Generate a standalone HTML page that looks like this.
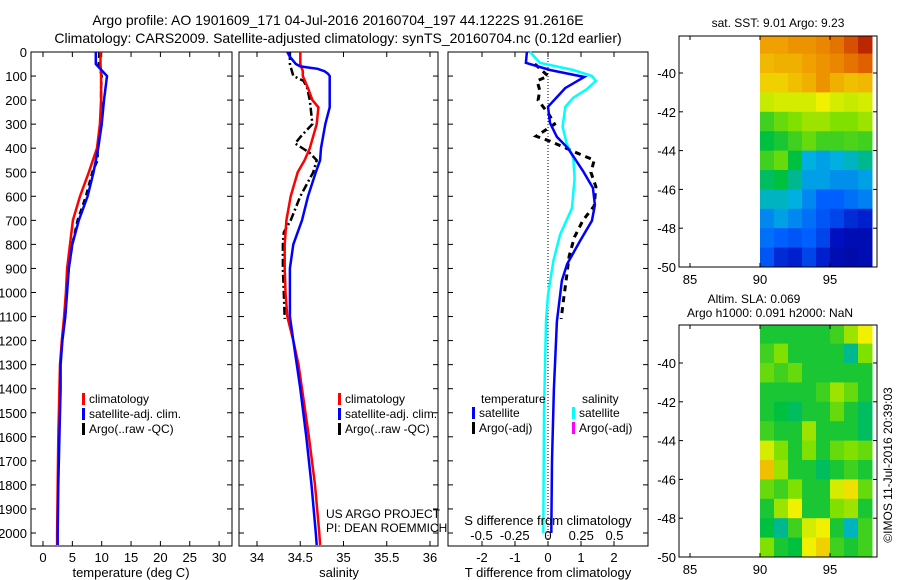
<!DOCTYPE html>
<html><head><meta charset="utf-8">
<style>
html,body{margin:0;padding:0;background:#fff;}
svg{display:block;font-family:"Liberation Sans",sans-serif;}
</style></head>
<body>
<svg id="chart" width="900" height="580" viewBox="0 0 900 580" xmlns="http://www.w3.org/2000/svg">
<text x="338" y="25" font-size="14" text-anchor="middle">Argo profile: AO 1901609_171 04-Jul-2016 20160704_197 44.1222S 91.2616E</text>
<text x="338" y="43" font-size="14" text-anchor="middle">Climatology: CARS2009. Satellite-adjusted climatology: synTS_20160704.nc (0.12d earlier)</text>
<g id="g1"></g>
<g id="g2"></g>
<g id="g3"></g>
<g id="g4"></g>
<g id="g5"></g>
<text transform="translate(892,465) rotate(-90)" font-size="12" text-anchor="middle">©IMOS 11-Jul-2016 20:39:03</text>
</svg>
<script>
// ---- data ----
const depthTicks = [0,100,200,300,400,500,600,700,800,900,1000,1100,1200,1300,1400,1500,1600,1700,1800,1900,2000];
const tempTicks = [0,5,10,15,20,25,30];
const salTicks = [34,34.5,35,35.5,36];
const salTickLabels = ['34','34.5','35','35.5','36'];
const tdiffTicks = [-2,-1,0,1,2];
const sdiffTicks = [-0.5,-0.25,0,0.25,0.5];
const climDepth = [0,50,100,200,300,400,500,600,700,800,900,1000,1100,1200,1300,1400,1600,1800,2000,2050];
const climTemp = [9.8,9.8,9.9,9.9,9.7,9.2,7.8,6.3,5.1,4.6,4.1,3.9,3.6,3.2,2.9,2.8,2.6,2.5,2.4,2.4];
const satTemp = [9.0,9.0,10.9,10.4,10.0,9.4,8.6,7.6,6.1,5.0,4.4,4.1,3.8,3.3,3.0,3.0,2.8,2.6,2.5,2.5];
const argoDepth = [0,50,100,150,200,300,350,400,450,500,600,700,800,900,1000,1100];
const argoTemp = [9.6,9.5,10.0,9.9,9.9,10.0,9.6,9.3,9.3,8.4,7.3,5.9,5.0,4.4,4.0,3.8];
const salDepth = [0,20,50,60,70,80,90,100,150,200,230,300,400,450,500,600,700,800,900,1000,1100,1200,1300,1400,1600,1800,2000,2050];
const climSal = [34.5,34.5,34.5,34.51,34.52,34.53,34.53,34.53,34.59,34.64,34.71,34.69,34.61,34.55,34.47,34.39,34.34,34.32,34.32,34.33,34.35,34.42,34.48,34.52,34.6,34.67,34.72,34.73];
const satSal = [34.35,34.38,34.45,34.5,34.7,34.78,34.82,34.84,34.84,34.84,34.84,34.79,34.74,34.73,34.68,34.59,34.52,34.42,34.38,34.38,34.38,34.42,34.46,34.5,34.57,34.63,34.68,34.69];
const argoSalDepth = [0,50,100,120,150,200,300,350,380,420,450,500,600,700,750,800,900,1000,1110];
const argoSal = [34.38,34.38,34.42,34.54,34.58,34.61,34.64,34.51,34.44,34.61,34.69,34.65,34.5,34.39,34.31,34.3,34.3,34.31,34.32];
const tdDepth = [0,45,75,104,150,228,295,353,399,495,565,636,702,786,882,950,1120,1400,1700,2000];
const tdSat = [-0.64,-0.67,0.06,1.1,0.52,0,0.06,0.27,0.6,1.06,1.36,1.42,1.33,0.97,0.58,0.42,0.27,0.18,0.12,0.1];
const sdDepth = [0,45,75,100,120,155,190,228,310,380,440,525,650,760,870,1010,1120,1500,2000];
const sdSat = [-0.135,-0.06,0.19,0.33,0.36,0.29,0.19,0.13,0.11,0.14,0.19,0.2,0.18,0.09,0.04,0,-0.015,-0.03,-0.035];
const tdArgoDepth = [50,100,120,160,200,260,300,350,370,420,450,500,560,640,700,770,850,950,1050,1110];
const tdArgo = [-0.4,0,-0.33,-0.25,-0.3,0.03,0.2,-0.36,0.05,0.88,1.4,1.3,1.45,1.4,1.06,0.8,0.64,0.55,0.45,0.4];
const mapLonTicks = [85,90,95];
const mapLatTicks = [-40,-42,-44,-46,-48,-50];
const sstLat = [-38,-39,-40,-41,-42,-43,-44,-45,-46,-47,-48,-49];
const sstLon = [90,91,92,93,94,95,96,97];
const sstGrid = [
[0.78,0.78,0.8,0.8,0.82,0.85,0.9,0.95],
[0.75,0.76,0.76,0.78,0.8,0.82,0.85,0.88],
[0.72,0.72,0.74,0.76,0.8,0.76,0.74,0.75],
[0.65,0.66,0.66,0.66,0.68,0.66,0.65,0.66],
[0.55,0.58,0.6,0.62,0.62,0.6,0.6,0.62],
[0.5,0.52,0.55,0.58,0.55,0.55,0.56,0.55],
[0.55,0.58,0.5,0.4,0.38,0.4,0.42,0.45],
[0.48,0.5,0.45,0.38,0.38,0.36,0.36,0.38],
[0.42,0.42,0.4,0.35,0.3,0.3,0.32,0.34],
[0.35,0.38,0.35,0.32,0.28,0.25,0.2,0.18],
[0.32,0.3,0.28,0.3,0.25,0.15,0.12,0.12],
[0.28,0.2,0.18,0.25,0.18,0.12,0.1,0.12]];
const slaGrid = [
[0.52,0.52,0.52,0.52,0.52,0.55,0.62,0.68],
[0.55,0.6,0.52,0.52,0.52,0.52,0.45,0.6],
[0.58,0.55,0.58,0.52,0.52,0.52,0.52,0.52],
[0.52,0.52,0.52,0.52,0.55,0.62,0.58,0.52],
[0.52,0.5,0.48,0.52,0.52,0.58,0.52,0.48],
[0.55,0.52,0.52,0.62,0.52,0.52,0.52,0.48],
[0.66,0.6,0.52,0.6,0.52,0.58,0.6,0.58],
[0.74,0.62,0.52,0.52,0.48,0.52,0.55,0.52],
[0.58,0.55,0.6,0.52,0.52,0.66,0.7,0.58],
[0.52,0.62,0.68,0.52,0.52,0.6,0.62,0.52],
[0.5,0.45,0.55,0.66,0.68,0.52,0.42,0.55],
[0.6,0.52,0.5,0.68,0.72,0.55,0.52,0.55]];

// ---- helpers ----
const NS='http://www.w3.org/2000/svg';
function mk(parent,tag,attrs,txt){const e=document.createElementNS(NS,tag);for(const k in attrs)e.setAttribute(k,attrs[k]);if(txt!==undefined)e.textContent=txt;parent.appendChild(e);return e;}
const TOP=52,BOT=546;
const yD = d => TOP + d*0.2405;
const xT = t => 43 + t*5.87;
const xS = s => 257 + (s-34)*86.5;
const xTD = v => 548 + v*33;
const xSD = v => 548 + v*133;
function poly(g,xs,ds,fx,style,name){
  const pts=xs.map((v,i)=>fx(v).toFixed(1)+','+yD(ds[i]).toFixed(1)).join(' ');
  const p=mk(g,'polyline',Object.assign({points:pts,fill:'none'},style));
  
  
}
function frame(g,x0,x1,yt,yb){
  const r=mk(g,'rect',{x:x0,y:yt,width:x1-x0,height:yb-yt,fill:'none',stroke:'#000','stroke-width':1});
  
  
}
function depthAxis(g,x0,x1,labels){
  depthTicks.forEach(d=>{const y=yD(d);
    mk(g,'line',{x1:x0,x2:x0+5,y1:y,y2:y,stroke:'#000'});
    mk(g,'line',{x1:x1,x2:x1-5,y1:y,y2:y,stroke:'#000'});
    if(labels){const t=mk(g,'text',{x:x0-4,y:y+5,'font-size':13,'text-anchor':'end'},String(d));
      
      }
  });
}
function xAxis(g,ticks,labels,fx){
  ticks.forEach((v,i)=>{const x=fx(v);
    mk(g,'line',{x1:x,x2:x,y1:BOT,y2:BOT-5,stroke:'#000'});
    mk(g,'line',{x1:x,x2:x,y1:TOP,y2:TOP+5,stroke:'#000'});
    const t=mk(g,'text',{x:x,y:BOT+16,'font-size':13,'text-anchor':'middle'},labels[i]);
    
    
  });
}
function legend(g,x,y,items){
  items.forEach((it,i)=>{
    mk(g,'rect',{x:x,y:y+i*15-10,width:3,height:12,fill:it[1]});
    const t=mk(g,'text',{x:x+7,y:y+i*15,'font-size':12},it[0]);
    
    
  });
}
// ---- panel 1 ----
const g1=document.getElementById('g1');
frame(g1,31,232,TOP,BOT);
depthAxis(g1,31,232,true);
xAxis(g1,tempTicks,tempTicks.map(String),xT);
poly(g1,argoTemp,argoDepth,xT,{stroke:'#000','stroke-width':2.5,'stroke-dasharray':'6,4'},'argo-temperature-line');
poly(g1,climTemp,climDepth,xT,{stroke:'#f00','stroke-width':2.5},'climatology-temperature-line');
poly(g1,satTemp,climDepth,xT,{stroke:'#00f','stroke-width':2.5},'satellite-temperature-line');
legend(g1,82,403,[['climatology','#f00'],['satellite-adj. clim.','#00f'],['Argo(..raw -QC)','#000']]);
mk(g1,'text',{x:131,y:577,'font-size':13,'text-anchor':'middle'},'temperature (deg C)');
// ---- panel 2 ----
const g2=document.getElementById('g2');
frame(g2,239,438,TOP,BOT);
depthAxis(g2,239,438,false);
xAxis(g2,salTicks,salTickLabels,xS);
poly(g2,argoSal,argoSalDepth,xS,{stroke:'#000','stroke-width':2.5,'stroke-dasharray':'8,3,2,3'},'argo-salinity-line');
poly(g2,climSal,salDepth,xS,{stroke:'#f00','stroke-width':2.5},'climatology-salinity-line');
poly(g2,satSal,salDepth,xS,{stroke:'#00f','stroke-width':2.5},'satellite-salinity-line');
legend(g2,338,403,[['climatology','#f00'],['satellite-adj. clim.','#00f'],['Argo(..raw -QC)','#000']]);
mk(g2,'text',{x:326,y:518,'font-size':12},'US ARGO PROJECT');
mk(g2,'text',{x:326,y:532,'font-size':12},'PI: DEAN ROEMMICH');
mk(g2,'text',{x:339,y:577,'font-size':13,'text-anchor':'middle'},'salinity');
// ---- panel 3 ----
const g3=document.getElementById('g3');
frame(g3,448,648,TOP,BOT);
depthAxis(g3,448,648,false);
xAxis(g3,tdiffTicks,tdiffTicks.map(String),xTD);
mk(g3,'line',{x1:548,x2:548,y1:TOP,y2:BOT,stroke:'#000','stroke-dasharray':'1,2'});
poly(g3,tdArgo,tdArgoDepth,xTD,{stroke:'#000','stroke-width':3,'stroke-dasharray':'6,5'},'argo-temperature-difference-line');
poly(g3,sdSat,sdDepth,xSD,{stroke:'#0ff','stroke-width':2.5},'satellite-salinity-difference-line');
poly(g3,tdSat,tdDepth,xTD,{stroke:'#00f','stroke-width':2.5},'satellite-temperature-difference-line');
mk(g3,'text',{x:481,y:403,'font-size':12},'temperature');
mk(g3,'text',{x:582,y:403,'font-size':12},'salinity');
legend(g3,472,417,[['satellite','#00f'],['Argo(-adj)','#000']]);
legend(g3,572,417,[['satellite','#0ff'],['Argo(-adj)','#f0f']]);
mk(g3,'text',{x:548,y:525,'font-size':13,'text-anchor':'middle'},'S difference from climatology');
sdiffTicks.forEach(v=>{const t=mk(g3,'text',{x:xSD(v),y:540,'font-size':13,'text-anchor':'middle'},String(v));
  
  });
mk(g3,'text',{x:548,y:577,'font-size':13,'text-anchor':'middle'},'T difference from climatology');
// ---- maps ----
const stops=[[0,[0,0,127]],[0.15,[0,16,192]],[0.3,[0,96,255]],[0.4,[0,176,224]],[0.5,[0,192,64]],[0.6,[128,224,0]],[0.68,[240,240,0]],[0.78,[240,160,0]],[0.88,[224,96,0]],[1,[160,0,0]]];
function cmap(v){for(let i=1;i<stops.length;i++){if(v<=stops[i][0]){const a=stops[i-1],b=stops[i],f=(v-a[0])/(b[0]-a[0]);const c=a[1].map((x,k)=>Math.round(x+(b[1][k]-x)*f));return 'rgb('+c.join(',')+')';}}return 'rgb(160,0,0)';}
function map(g,x0,x1,yt,yb,lat40y,latPx,grid,name){
  const xL=lon=>690+(lon-85)*14;
  const yL=lat=>lat40y+(-40-lat)*latPx;
  grid.forEach((row,r)=>row.forEach((v,c)=>{
    const lat=sstLat[r],lon=sstLon[c];
    const ya=Math.max(yt,yL(lat)),yb2=Math.min(yb,yL(lat-1)),xa=xL(lon),xb=Math.min(x1,xL(lon+1));
    const e=mk(g,'rect',{x:xa,y:ya,width:xb-xa+0.5,height:yb2-ya+0.5,fill:cmap(v)});
    
    
  }));
  frame(g,x0,x1,yt,yb);
  mapLonTicks.forEach(l=>{const x=xL(l);mk(g,'line',{x1:x,x2:x,y1:yb,y2:yb-4,stroke:'#000'});mk(g,'line',{x1:x,x2:x,y1:yt,y2:yt+4,stroke:'#000'});
    mk(g,'text',{x:x,y:yb+17,'font-size':13,'text-anchor':'middle'},String(l));});
  mapLatTicks.forEach(l=>{const y=yL(l);mk(g,'line',{x1:x0,x2:x0+4,y1:y,y2:y,stroke:'#000'});mk(g,'line',{x1:x1,x2:x1-4,y1:y,y2:y,stroke:'#000'});
    mk(g,'text',{x:x0-3,y:y+5,'font-size':13,'text-anchor':'end'},String(l));});
}
const g4=document.getElementById('g4');
map(g4,679,877,36,267,73,19.4,sstGrid,'sst');
mk(g4,'text',{x:778,y:27,'font-size':12,'text-anchor':'middle'},'sat. SST: 9.01  Argo: 9.23');
const g5=document.getElementById('g5');
map(g5,679,877,325,557,363,19.4,slaGrid,'sla');
mk(g5,'text',{x:754,y:303,'font-size':12,'text-anchor':'middle'},'Altim. SLA: 0.069');
mk(g5,'text',{x:770,y:317,'font-size':12,'text-anchor':'middle'},'Argo h1000: 0.091 h2000: NaN');
</script>
</body></html>
